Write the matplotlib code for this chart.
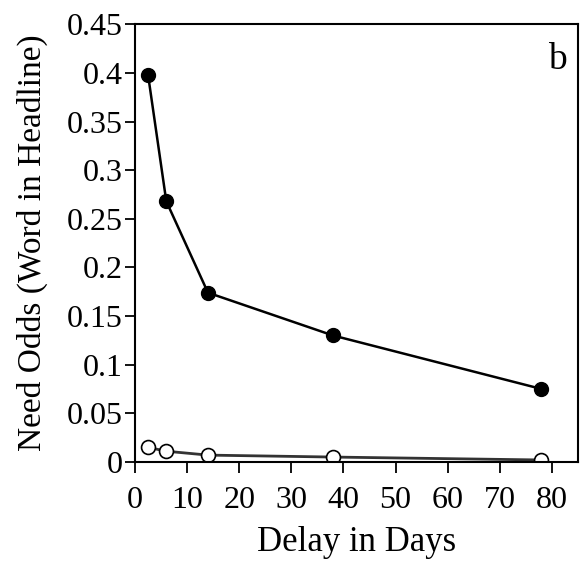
import matplotlib
matplotlib.use('Agg')
import matplotlib.pyplot as plt

# Data
delay_days = [2.5, 6, 14, 38, 78]
odds_filled = [0.398, 0.268, 0.174, 0.130, 0.075]
odds_open = [0.015, 0.011, 0.007, 0.005, 0.002]
x_ticks = [0, 10, 20, 30, 40, 50, 60, 70, 80]
y_ticks = [0, 0.05, 0.1, 0.15, 0.2, 0.25, 0.3, 0.35, 0.4, 0.45]
y_tick_labels = ['0', '0.05', '0.1', '0.15', '0.2', '0.25', '0.3', '0.35', '0.4', '0.45']

plt.rcParams['font.family'] = ['Liberation Serif', 'DejaVu Serif']

fig = plt.figure(figsize=(5.82, 5.64), dpi=100)
ax = fig.add_axes([0.232, 0.181, 0.761, 0.776])

ax.plot(delay_days, odds_open, color='#333333', lw=2.0, marker='o', ms=10,
        mfc='white', mec='black', mew=1.2, zorder=2)
ax.plot(delay_days, odds_filled, color='black', lw=1.8, marker='o', ms=10,
        mfc='black', mec='black', zorder=3)

ax.set_xlim(0, 85)
ax.set_ylim(0, 0.45)
ax.set_xticks(x_ticks)
ax.set_yticks(y_ticks)
ax.set_yticklabels(y_tick_labels)
ax.tick_params(direction='out', width=1.3, labelsize=23)
ax.tick_params(axis='x', length=8, pad=9)
ax.tick_params(axis='y', length=7, pad=2)
for s in ax.spines.values():
    s.set_linewidth(1.5)

ax.set_xlabel('Delay in Days', fontsize=25, labelpad=8)
ax.set_ylabel('Need Odds (Word in Headline)', fontsize=24, labelpad=13)
ax.text(0.975, 0.92, 'b', transform=ax.transAxes, fontsize=27,
        ha='right', va='center')

fig.savefig('out.png', dpi=100)
